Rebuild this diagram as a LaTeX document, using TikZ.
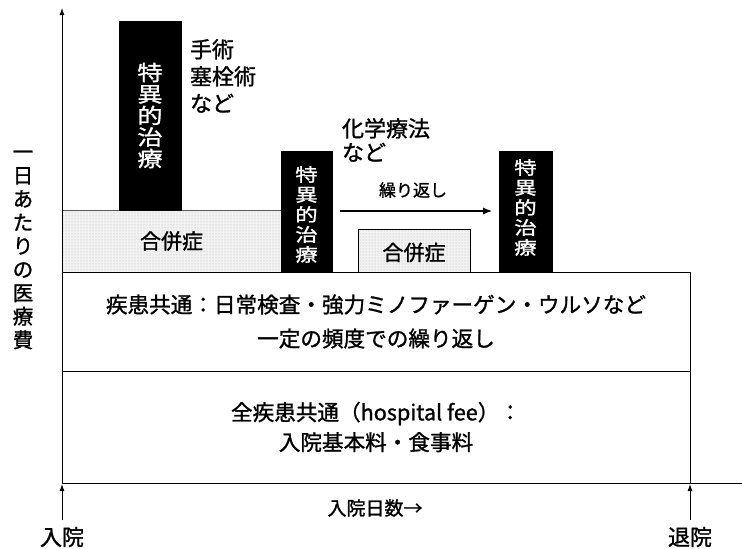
\documentclass[tikz,border=0pt]{standalone}
\usepackage{fontspec}
\newfontfamily\jp[FakeBold=1.2]{Noto Sans CJK JP}
\newfontfamily\jpwide[FakeBold=1.2,FakeStretch=1.2]{Noto Sans CJK JP}
\newfontfamily\jpwider[FakeBold=1.2,FakeStretch=1.25]{Noto Sans CJK JP}
\usetikzlibrary{arrows.meta,patterns}
\tikzset{
  base/.style={inner sep=0pt, outer sep=0pt},
  bar/.style={base, fill=black, draw=black, anchor=north west},
  bartext/.style={base, text=white, align=center},
  shade/.style={base, fill=gray!10, anchor=north west},
  stipple/.style={pattern=dots, pattern color=gray!60},
  box/.style={base, draw=black, line width=0.9pt, anchor=north west, align=center},
  lbl/.style={base, font=\jp\fontsize{22}{27}\selectfont, align=left},
  axis/.style={line width=0.9pt},
  tip/.style={-{Latex[length=7pt,width=5pt]}},
}
\begin{document}
\begin{tikzpicture}[x=1pt,y=-1pt]
\useasboundingbox (0,0) rectangle (742,549);
% shaded complication areas
\node[shade, minimum width=219pt, minimum height=62pt] (comp1) at (62,210) {};
\fill[stipple] (comp1.north west) rectangle (comp1.south east);
\node[base, font=\jp\fontsize{21}{24}\selectfont] (comp1t) at (comp1.center) {合併症};
\draw[line width=0.7pt, gray!70!black] (comp1.north west) -- (comp1.north east);
\node[shade, minimum width=112pt, minimum height=43pt] (comp2) at (358,229) {};
\fill[stipple] (comp2.north west) rectangle (comp2.south east);
\draw[line width=0.7pt] (comp2.north west) rectangle (comp2.south east);
\node[base, font=\jp\fontsize{21}{24}\selectfont] (comp2t) at ([yshift=-2pt]comp2.center) {合併症};
% boxes
\node[box, minimum width=628pt, minimum height=99pt, font=\jp\fontsize{21.6}{34}\selectfont] (mid) at (62,272)
  {疾患共通：日常検査・強力ミノファーゲン・ウルソなど\\一定の頻度での繰り返し};
\node[box, minimum width=628pt, minimum height=112pt, font=\jp\fontsize{21.6}{30}\selectfont] (bot) at (62,371)
  {全疾患共通（hospital fee）：\\入院基本料・食事料};
% black bars
\node[bar, minimum width=62pt, minimum height=189pt] (bar1) at (119,21) {};
\node[bar, minimum width=51pt, minimum height=121pt] (bar2) at (281,151) {};
\node[bar, minimum width=53pt, minimum height=121pt] (bar3) at (499,151) {};
\node[bartext, font=\jpwide\fontsize{21}{21.5}\selectfont] (bt1) at (bar1.center) {特\\異\\的\\治\\療};
\node[bartext, font=\jpwider\fontsize{18}{20}\selectfont] (bt2) at ([yshift=-3pt]bar2.center) {特\\異\\的\\治\\療};
\node[bartext, font=\jpwider\fontsize{18}{20}\selectfont] (bt3) at ([yshift=4pt]bar3.center) {特\\異\\的\\治\\療};
% axes
\coordinate (origin) at (62,483);
\coordinate (ytop) at (62,8);
\coordinate (xend) at (742,483);
\draw[axis, tip] (origin) -- (ytop);
\draw[axis] (origin) -- (xend);
% labels
\node[base, font=\jp\fontsize{20.5}{23.5}\selectfont, align=center] (ylab) at (23,250) {一\\日\\あ\\た\\り\\の\\医\\療\\費};
\node[lbl, anchor=west] (surg) at (190,76) {手術\\塞栓術\\など};
\node[lbl, anchor=west, font=\jp\fontsize{22}{24}\selectfont] (chemo) at (342,140) {化学療法\\など};
\node[base, font=\jp\fontsize{17}{18}\selectfont] (rep) at (413,190) {繰り返し};
\coordinate (repS) at (340,211);
\coordinate (repE) at (492,211);
\draw[line width=1.1pt, -{Latex[length=9pt,width=7pt]}] (repS) -- (repE);
\node[base, font=\jp\fontsize{19}{20}\selectfont] (days) at (375,508) {入院日数→};
\node[base, font=\jp\fontsize{22}{24}\selectfont] (adm) at (62,537) {入院};
\node[base, font=\jp\fontsize{22}{24}\selectfont] (dis) at (690,537) {退院};
\coordinate (admA) at (62,520);
\coordinate (disA) at (690,520);
\coordinate (admT) at (62,484);
\coordinate (disT) at (690,484);
\draw[axis, tip] (admA) -- (admT);
\draw[axis, tip] (disA) -- (disT);
\end{tikzpicture}
\end{document}
